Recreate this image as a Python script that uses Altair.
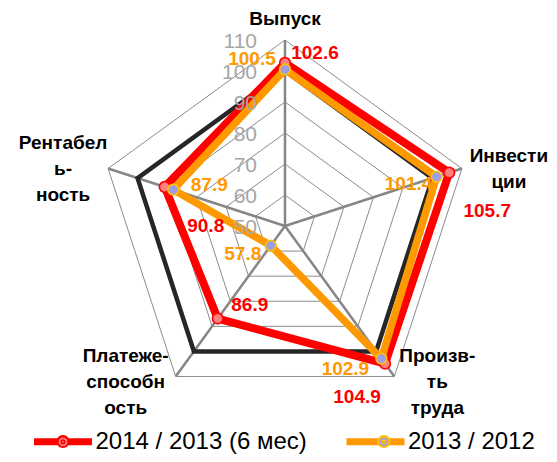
import altair as alt
import pandas as pd

# ---------------- data ----------------
categories = ["Выпуск", "Инвестиции", "Произв-ть труда", "Платежеспособность", "Рентабельность"]
category_labels = ["Выпуск", "Инвести\nции", "Произв-\nть\nтруда", "Платеже-\nспособн\nость", "Рентабел\nь-\nность"]
series_names = ["2014 / 2013 (6 мес)", "2013 / 2012"]
values_2014 = [102.6, 105.7, 104.9, 86.9, 90.8]
values_2013 = [100.5, 101.4, 102.9, 57.8, 87.9]
reference_100 = [100, 100, 100, 100, 100]
tick_values = [50, 60, 70, 80, 90, 100, 110]

# ---------------- layout ----------------
R_MIN, R_MAX = 50, 110
N = len(categories)
CX, CY = 285, 226        # centre of the radar in page pixels
K = 3.1                  # pixels per value unit
W, H = 541, 446          # drawing area
x_dom = [-(CX - 8) / K, (W - (CX - 8)) / K]
y_dom = [-(H - (CY - 8)) / K, (CY - 8) / K]
xs = alt.Scale(domain=x_dom, nice=False, zero=False)
ys = alt.Scale(domain=y_dom, nice=False, zero=False)

RED, ORANGE, BLACK = "#ff0000", "#ff9900", "#262626"
RED_FILL, ORANGE_FILL, ORANGE_EDGE = "#ff8080", "#9e9ee6", "#ffc000"
FONT = "Liberation Sans"


def polar(ch):
    return ch.transform_calculate(
        ang=f"datum.idx * 2 * PI / {N}"
    ).transform_calculate(
        x=f"(datum.value - {R_MIN}) * sin(datum.ang)",
        y=f"(datum.value - {R_MIN}) * cos(datum.ang)",
    )


def series_frame(values, name):
    closed = list(values) + [values[0]]
    return pd.DataFrame({
        "idx": list(range(N + 1)),
        "value": closed,
        "series": name,
        "series_b": name,
        "series_c": name,
    })


df14 = series_frame(values_2014, series_names[0])
df13 = series_frame(values_2013, series_names[1])
dfref = series_frame(reference_100, "ref")

ring_rows = []
for t in tick_values[1:]:
    for i in range(N + 1):
        ring_rows.append({"ring": t, "idx": i, "value": t})
df_rings = pd.DataFrame(ring_rows)

df_spokes = pd.DataFrame({"idx": list(range(N)), "value": [R_MAX] * N, "zero": [0] * N})
df_ticks = pd.DataFrame({"idx": [0] * len(tick_values), "value": tick_values,
                         "label": [str(t) for t in tick_values]})
df_cats = pd.DataFrame({"idx": list(range(N)), "value": [R_MAX] * N, "label": category_labels})

X = alt.X("x:Q", scale=xs, axis=None)
Y = alt.Y("y:Q", scale=ys, axis=None)

rings = polar(alt.Chart(df_rings).mark_line(color="#8c8c8c", strokeWidth=1)).encode(
    x=X, y=Y, detail="ring:N", order="idx:Q")

spokes = polar(alt.Chart(df_spokes).mark_rule(color="#868686", strokeWidth=2.5)).encode(
    x=alt.X("zero:Q", scale=xs, axis=None), y=alt.Y("zero:Q", scale=ys, axis=None),
    x2="x:Q", y2="y:Q")

ref_line = polar(alt.Chart(dfref).mark_line(color=BLACK, strokeWidth=4.5)).encode(
    x=X, y=Y, order="idx:Q")

# ---------------- legend (line + marker, built from three stacked legends) ----------------
PAD = 24.5               # gap between the two legend entries
LABEL1_W = 231.5         # layout width of the first legend label
legend_common = dict(orient="none", legendX=22.5, legendY=401, direction="horizontal",
                     title=None, symbolSize=58 * 58, symbolStrokeWidth=7, labelFont=FONT,
                     labelFontSize=24, labelColor="#000000", labelLimit=400, labelOffset=0,
                     padding=0, symbolOpacity=1)

legend_line = alt.Legend(symbolType="stroke", columnPadding=PAD, zindex=1, **legend_common)
outer_path = "M0.224,0 A0.224,0.224 0 1,1 -0.224,0 A0.224,0.224 0 1,1 0.224,0 Z"
inner_path = "M0.031,0 A0.031,0.031 0 1,1 -0.031,0 A0.031,0.031 0 1,1 0.031,0 Z"
legend_outer = alt.Legend(symbolType=outer_path, symbolStrokeColor="transparent", labelExpr="''",
                          columnPadding=PAD + LABEL1_W, zindex=2, **legend_common)
legend_inner = alt.Legend(symbolType=inner_path, symbolFillColor="transparent", labelExpr="''",
                          columnPadding=PAD + LABEL1_W, zindex=3, **legend_common)

color_enc = alt.Color("series:N", sort=series_names, scale=alt.Scale(range=[RED, ORANGE]),
                      legend=legend_line)
outer_enc = alt.Fill("series_c:N", sort=series_names, scale=alt.Scale(range=[RED, ORANGE_EDGE]),
                     legend=legend_outer)
inner_enc = alt.Stroke("series_b:N", sort=series_names, scale=alt.Scale(range=[RED_FILL, ORANGE_FILL]),
                       legend=legend_inner)

line14 = polar(alt.Chart(df14).mark_line(strokeWidth=8)).encode(x=X, y=Y, order="idx:Q", color=color_enc)
line13 = polar(alt.Chart(df13).mark_line(strokeWidth=7.5)).encode(x=X, y=Y, order="idx:Q", color=color_enc)


def marker_layers(df, inner_fill):
    d = df[df.idx < N]
    outer = polar(alt.Chart(d).mark_point(filled=True, size=150, opacity=1, strokeWidth=0)).encode(
        x=X, y=Y, fill=outer_enc)
    inner = polar(alt.Chart(d).mark_point(filled=True, fill=inner_fill, size=72, opacity=1,
                                          strokeWidth=0.5)).encode(
        x=X, y=Y, stroke=inner_enc)
    return [outer, inner]


tick_labels = polar(alt.Chart(df_ticks).mark_text(
    align="right", baseline="alphabetic", dx=-28, dy=7.5, font=FONT, fontSize=21, color="#a6a6a6")).encode(
    x=X, y=Y, text="label:N")

# value labels: offsets (dx, dy) from each point
offsets_2014 = [(30, -4), (38, 44), (-28, 39), (32, -8), (41, 45)]
offsets_2013 = [(-33, -4), (-28, 13), (-36, 16), (-28, 14), (36, 1)]

value_layers = []
for df, offs, col in [(df14, offsets_2014, RED), (df13, offsets_2013, ORANGE)]:
    for i in range(N):
        dx, dy = offs[i]
        value_layers.append(
            polar(alt.Chart(df[df.idx == i]).mark_text(
                align="center", baseline="alphabetic", dx=dx, dy=dy, font=FONT,
                fontSize=19, fontWeight="bold", color=col)).encode(
                x=X, y=Y, text=alt.Text("value:Q", format=".1f")))

cat_offsets = [(0, -15), (47, -7), (43, -14), (-50, -14), (-45, -20)]
cat_layers = []
for i in range(N):
    dx, dy = cat_offsets[i]
    cat_layers.append(
        polar(alt.Chart(df_cats[df_cats.idx == i]).mark_text(
            align="center", baseline="alphabetic", dx=dx, dy=dy, font=FONT, fontSize=19,
            fontWeight="bold", color="#000000", lineBreak="\n", lineHeight=26)).encode(
            x=X, y=Y, text="label:N"))

chart = alt.layer(
    rings, spokes, ref_line, line14, line13,
    *marker_layers(df14, RED_FILL), *marker_layers(df13, ORANGE_FILL),
    tick_labels, *value_layers, *cat_layers
).properties(
    width=W, height=H, autosize=alt.AutoSizeParams(type="none"), padding=0
).configure_view(stroke=None)

chart.save("out.html", embed_options={"renderer": "svg", "actions": False})
